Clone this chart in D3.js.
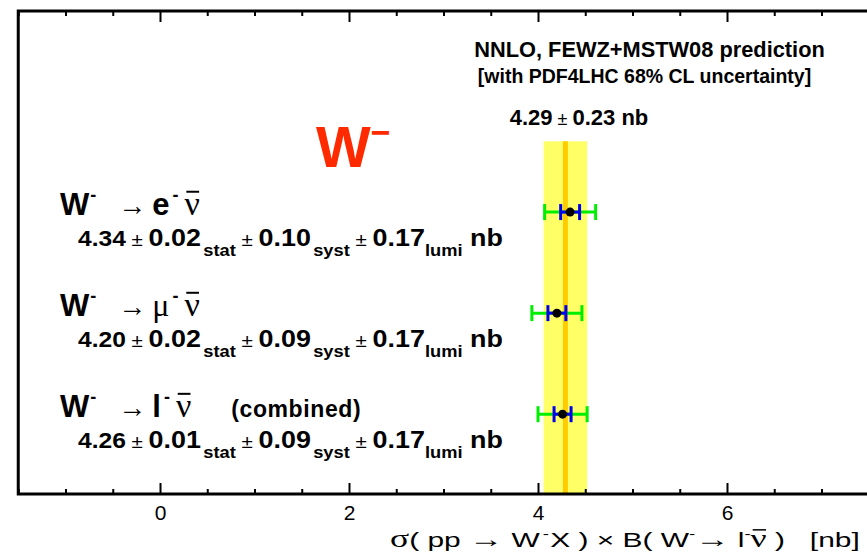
<!DOCTYPE html>
<html>
<head>
<meta charset="utf-8">
<script src="https://cdn.jsdelivr.net/npm/d3@7"></script>
<style>
  body { margin: 0; background: #fff; }
  svg { display: block; }
  text { font-family: "Liberation Sans", Arial, Helvetica, sans-serif; }
</style>
</head>
<body>
<div id="chart"></div>
<script>
// measurements, one entry per channel (top to bottom)
const channels = ["e", "μ", "l"];
const centralValues = [4.34, 4.20, 4.26];
const statErr = ["0.02", "0.02", "0.01"];
const systErr = ["0.10", "0.09", "0.09"];
const lumiErr = ["0.17", "0.17", "0.17"];
// error bar half widths as drawn (blue = stat+syst, green = total)
const innerErr = [0.10, 0.095, 0.09];
const outerErr = [0.27, 0.265, 0.26];
const rowPos = [3, 2, 1];

// theory prediction
const prediction = 4.29;
const predictionErr = 0.23;
const bandTop = 3.7;

const xTicksMajor = [0, 2, 4, 6];

const W = 867, H = 556;

const svg = d3.select("#chart")
  .append("svg")
  .attr("width", W)
  .attr("height", H);

const xScale = d3.scaleLinear()
  .domain([-1.5, 8])
  .range([18.25, 160 + 8 * 94.5]);

const yScale = d3.scaleLinear()
  .domain([0.21, 4.99])
  .range([494, 11]);

const frameLeft = xScale(-1.5), frameRight = xScale(8);
const frameTop = yScale(4.99), frameBottom = yScale(0.21);

// prediction band
svg.append("rect")
  .attr("x", xScale(prediction - predictionErr))
  .attr("y", yScale(bandTop))
  .attr("width", xScale(prediction + predictionErr) - xScale(prediction - predictionErr))
  .attr("height", frameBottom - yScale(bandTop))
  .attr("fill", "#ffff66");

svg.append("line")
  .attr("x1", xScale(prediction)).attr("x2", xScale(prediction))
  .attr("y1", yScale(bandTop)).attr("y2", frameBottom)
  .attr("stroke", "#ffcc00")
  .attr("stroke-width", 5);

// axes (ticks pointing inward)
const minorTicks = d3.range(-1.5, 8.01, 0.5).filter(d => Math.abs(d % 2) > 1e-6);

function addAxis(gen, y, size, values, withLabels) {
  const g = svg.append("g")
    .attr("transform", `translate(0,${y})`)
    .call(gen(xScale)
      .tickValues(values)
      .tickSize(size)
      .tickPadding(11)
      .tickFormat(withLabels ? d3.format("d") : ""));
  g.select(".domain").remove();
  g.selectAll("line").attr("stroke", "#000").attr("stroke-width", 2);
  g.selectAll("text")
    .attr("fill", "#000")
    .style("font-size", "21px")
    .style("font-family", "'Liberation Sans', Arial, sans-serif");
  return g;
}
addAxis(d3.axisBottom, frameBottom, -11, xTicksMajor, true);
addAxis(d3.axisBottom, frameBottom, -5, minorTicks, false);
addAxis(d3.axisTop, frameTop, -11, xTicksMajor, false);
addAxis(d3.axisTop, frameTop, -5, minorTicks, false);

svg.append("rect")
  .attr("x", frameLeft)
  .attr("y", frameTop)
  .attr("width", frameRight - frameLeft)
  .attr("height", frameBottom - frameTop)
  .attr("fill", "none")
  .attr("stroke", "#000")
  .attr("stroke-width", 3);

// error bars and points
const capH = 8;
function errBar(i, half, color) {
  const cy = yScale(rowPos[i]);
  const x0 = xScale(centralValues[i] - half), x1 = xScale(centralValues[i] + half);
  const g = svg.append("g").attr("stroke", color).attr("stroke-width", 3);
  g.append("line").attr("x1", x0).attr("x2", x1).attr("y1", cy).attr("y2", cy);
  [x0, x1].forEach(x => g.append("line")
    .attr("x1", x).attr("x2", x).attr("y1", cy - capH).attr("y2", cy + capH));
}
centralValues.forEach((v, i) => {
  errBar(i, outerErr[i], "#00ee00");
  errBar(i, innerErr[i], "#0000ee");
});
svg.selectAll(".pt")
  .data(centralValues)
  .enter().append("circle")
  .attr("class", "pt")
  .attr("cx", d => xScale(d))
  .attr("cy", (d, i) => yScale(rowPos[i]))
  .attr("r", 4.5)
  .attr("fill", "#000");

// helper to write a line made of styled pieces; parts flagged bar get an overline
function rich(parent, x, y, parts, anchor) {
  const t = parent.append("text")
    .attr("x", x).attr("y", y)
    .attr("text-anchor", anchor || "start")
    .attr("fill", "#000")
    .attr("xml:space", "preserve");
  parts.forEach(p => {
    const s = t.append("tspan").text(p.t)
      .style("font-size", (p.size || 21) + "px")
      .style("font-weight", p.weight || "bold");
    if (p.family) s.style("font-family", p.family);
    if (p.dy) s.attr("dy", p.dy);
    if (p.dx) s.attr("dx", p.dx);
    if (p.fill) s.attr("fill", p.fill);
    if (p.ls) s.style("letter-spacing", p.ls + "px");
    if (p.bar) {
      const b = s.node().getBBox();
      parent.append("line")
        .attr("x1", b.x + b.width * 0.12).attr("x2", b.x + b.width * 0.95)
        .attr("y1", b.y + b.height * 0.18).attr("y2", b.y + b.height * 0.18)
        .attr("stroke", "#000")
        .attr("stroke-width", p.bw || 2);
    }
  });
  return t;
}
// squeeze/stretch a group so its text spans [x0, x1]
function fitGroup(g, t, x0, x1, y) {
  const w = t.node().getBBox().width;
  g.attr("transform", `translate(${x0},${y}) scale(${(x1 - x0) / w},1)`);
}
const serif = "'Liberation Serif', 'DejaVu Serif', serif";

// channel labels
channels.forEach((c, i) => {
  const cy = yScale(rowPos[i]);
  const lep = c === "μ"
    ? { t: "μ", size: 32, weight: "normal", family: serif }
    : { t: c, size: 31 };
  const parts = [
    { t: "W", size: 31 },
    { t: "-", size: 18, dy: -14, dx: 1 },
    { t: "→", size: 28, weight: "normal", family: serif, dy: 14, dx: 22 },
    Object.assign({ dx: 6 }, lep),
    { t: "-", size: 18, dy: -14, dx: 3 },
    { t: "ν", size: 34, weight: "normal", family: serif, dy: 14, dx: 6, bar: true }
  ];
  if (c === "l") parts.push({ t: "(combined)", size: 23, dx: 40, ls: 0.6 });
  rich(svg, 60, cy + 3, parts);

  const g = svg.append("g");
  const t = rich(g, 0, 0, [
    { t: centralValues[i].toFixed(2), size: 21.5 },
    { t: " ± ", size: 18, weight: "normal" },
    { t: statErr[i], size: 23.5 },
    { t: "stat", size: 16, dy: 10, dx: 2 },
    { t: " ± ", size: 18, weight: "normal", dy: -10 },
    { t: systErr[i], size: 23.5 },
    { t: "syst", size: 16, dy: 10, dx: 2 },
    { t: " ± ", size: 18, weight: "normal", dy: -10 },
    { t: lumiErr[i], size: 23.5 },
    { t: "lumi", size: 16, dy: 10 },
    { t: " nb", size: 23.5, dy: -10 }
  ]);
  fitGroup(g, t, 78, 503, cy + 34);
});

// big red W-
rich(svg, 316, 167, [
  { t: "W", size: 58, fill: "#ff2a00" },
  { t: "−", size: 34, dy: -23, fill: "#ff2a00" }
]);

// prediction text
rich(svg, 649.5, 57, [{ t: "NNLO, FEWZ+MSTW08 prediction", size: 21.8 }], "middle");
rich(svg, 644.5, 83, [{ t: "[with PDF4LHC 68% CL uncertainty]", size: 19.5 }], "middle");
rich(svg, 579, 125, [
  { t: prediction.toFixed(2), size: 22 },
  { t: " ± ", size: 18, weight: "normal" },
  { t: predictionErr.toFixed(2) + " nb", size: 22 }
], "middle");

// x axis title
const tg = svg.append("g");
const tt = rich(tg, 0, 0, [
  { t: "σ", size: 25, weight: "normal", family: serif },
  { t: "( pp ", size: 21, weight: "normal" },
  { t: "→", size: 24, weight: "normal", family: serif },
  { t: " W", size: 21, weight: "normal" },
  { t: "-", size: 13, weight: "normal", dy: -9, dx: 2 },
  { t: "X ) × B( W", size: 21, weight: "normal", dy: 9, dx: 1 },
  { t: "-", size: 13, weight: "normal", dy: -9 },
  { t: "→", size: 24, weight: "normal", family: serif, dy: 9 },
  { t: " l", size: 21, weight: "normal" },
  { t: "-", size: 13, weight: "normal", dy: -9 },
  { t: "ν", size: 25, weight: "normal", family: serif, dy: 9, bar: true, bw: 1.5 },
  { t: " )   [nb]", size: 21, weight: "normal" }
]);
fitGroup(tg, tt, 390, 860, 547);
</script>
</body>
</html>
